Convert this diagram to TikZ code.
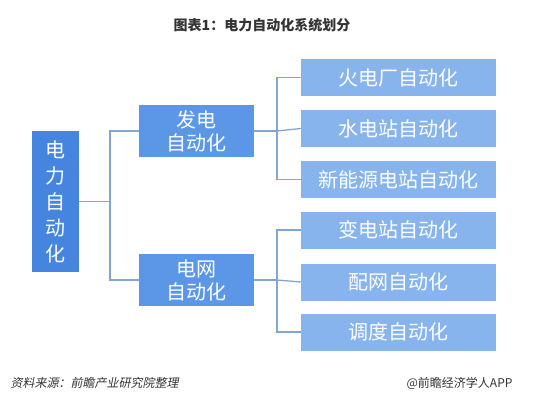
\documentclass[tikz,border=0pt]{standalone}
\usepackage{fontspec}
\setmainfont{Noto Sans CJK SC}
\newfontfamily\cjkit{Noto Sans CJK SC}[FakeSlant=0.2]
\definecolor{leftblue}{HTML}{4585E0}
\definecolor{midblue}{HTML}{5B97E6}
\definecolor{rightblue}{HTML}{88B4EE}
\definecolor{linkblue}{HTML}{7FA7D4}
\definecolor{txtgray}{HTML}{333333}
\begin{document}
\begin{tikzpicture}[x=1pt,y=-1pt,
  box/.style={draw=none,text=white,inner sep=0pt,align=center,font=\fontsize{20}{23}\selectfont},
  leftbox/.style={box,fill=leftblue,minimum width=47pt,minimum height=141pt,font=\fontsize{20}{26}\selectfont},
  midbox/.style={box,fill=midblue,minimum width=115pt,minimum height=52pt},
  rightbox/.style={box,fill=rightblue,minimum width=195pt,minimum height=37pt},
  link/.style={draw=linkblue,line width=1.3pt}]
\useasboundingbox (0,0) rectangle (535,402);
\node[font=\bfseries\fontsize{14}{16}\selectfont,text=txtgray] (title) at (262,25) {图表1：电力自动化系统划分};
\node[leftbox] (root) at (55.5,201.5) {电\\力\\自\\动\\化};
\node[midbox] (gen) at (196.5,131) {发电\\自动化};
\node[midbox] (grid) at (196.5,280) {电网\\自动化};
\node[rightbox] (r1) at (398.5,77.5) {火电厂自动化};
\node[rightbox] (r2) at (398.5,128.5) {水电站自动化};
\node[rightbox] (r3) at (398.5,179.5) {新能源电站自动化};
\node[rightbox] (r4) at (398.5,230) {变电站自动化};
\node[rightbox] (r5) at (398.5,282) {配网自动化};
\node[rightbox] (r6) at (398.5,332) {调度自动化};
\coordinate (j0) at (110,201.5);
\coordinate (j1) at (277,131);
\coordinate (j2) at (277,280);
\draw[link] (root.east) -- (j0);
\draw[link] (gen.west) -| (j0) |- (grid.west);
\draw[link] (gen.east) -- (j1);
\draw[link] (r1.west) -| (j1) |- (r3.west);
\draw[link] (r2.west) -- (j1);
\draw[link] (grid.east) -- (j2);
\draw[link] (r4.west) -| (j2) |- (r6.west);
\draw[link] (r5.west) -- (j2);
\node[anchor=west,text=txtgray,font=\cjkit\fontsize{12}{14}\selectfont] (src) at (7,383) {资料来源：前瞻产业研究院整理};
\node[anchor=east,text=txtgray,font=\fontsize{12}{14}\selectfont] (brand) at (516,383) {@前瞻经济学人APP};
\end{tikzpicture}
\end{document}
